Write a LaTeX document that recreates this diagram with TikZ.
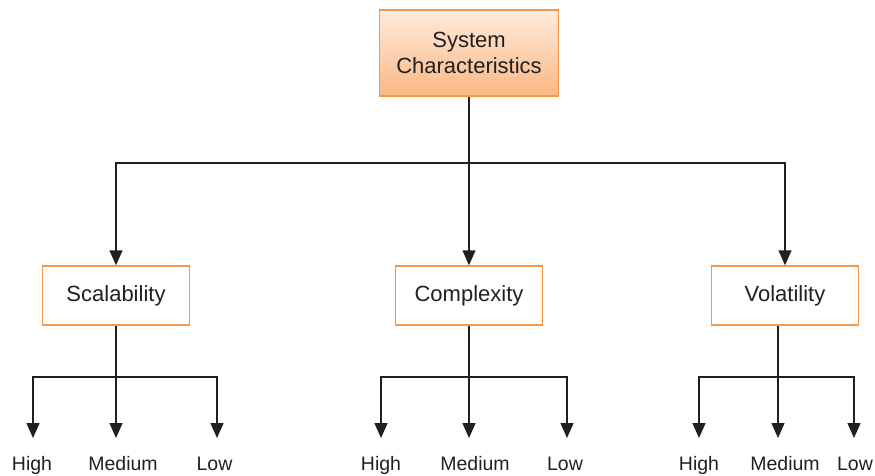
\documentclass[tikz,border=0pt]{standalone}
\usepackage{fontspec}
\setmainfont{Liberation Sans}
\usetikzlibrary{positioning, arrows.meta}
\definecolor{boxorange}{RGB}{247,150,70}
\definecolor{peachtop}{RGB}{253,236,222}
\definecolor{peachbot}{RGB}{250,183,132}
\definecolor{ink}{RGB}{35,31,32}

\begin{document}
\begin{tikzpicture}[
    x=1pt, y=1pt,
    every node/.style={text=ink},
    root/.style={rectangle, draw=boxorange, line width=1.5pt, top color=peachtop, bottom color=peachbot, align=center, minimum width=179pt, minimum height=86pt, font=\fontsize{22}{26}\selectfont},
    trait/.style={rectangle, draw=boxorange, line width=1.5pt, fill=white, align=center, minimum width=147pt, minimum height=59pt, font=\fontsize{22}{26}\selectfont},
    level/.style={font=\fontsize{19.5}{22}\selectfont, inner sep=0pt, anchor=base},
    wire/.style={draw=ink, line width=1.5pt},
    arr/.style={wire, -{Triangle[length=15pt, width=13pt]}},
]
\useasboundingbox (0,0) rectangle (875,475);

% ---------- root ----------
\node[root] (sys) at (469,422) {System\\Characteristics};

% ---------- characteristics ----------
\node[trait] (scal) at (116,179.5) {Scalability};
\node[trait] (comp) at (469,179.5) {Complexity};
\node[trait] (vola) at (785,179.5) {Volatility};

\coordinate (split) at (469,312);
\draw[wire] (sys.south) -- (split);
\draw[arr] (split) -| (scal.north);
\draw[arr] (split) -- (comp.north);
\draw[arr] (split) -| (vola.north);

% ---------- levels: scalability ----------
\node[level] (scal-high) at (32,5) {High};
\node[level] (scal-med) at (123,5) {Medium};
\node[level] (scal-low) at (214.5,5) {Low};
\coordinate (scal-split) at (scal.south |- 0,98);
\coordinate (scal-h) at (33,37);
\coordinate (scal-m) at (scal.south |- 0,37);
\coordinate (scal-l) at (217,37);
\draw[wire] (scal.south) -- (scal-split);
\draw[arr] (scal-split) -| (scal-h);
\draw[arr] (scal-split) -- (scal-m);
\draw[arr] (scal-split) -| (scal-l);

% ---------- levels: complexity ----------
\node[level] (comp-high) at (381,5) {High};
\node[level] (comp-med) at (475,5) {Medium};
\node[level] (comp-low) at (565,5) {Low};
\coordinate (comp-split) at (comp.south |- 0,98);
\coordinate (comp-h) at (381,37);
\coordinate (comp-m) at (comp.south |- 0,37);
\coordinate (comp-l) at (567,37);
\draw[wire] (comp.south) -- (comp-split);
\draw[arr] (comp-split) -| (comp-h);
\draw[arr] (comp-split) -- (comp-m);
\draw[arr] (comp-split) -| (comp-l);

% ---------- levels: volatility ----------
\node[level] (vola-high) at (699,5) {High};
\node[level] (vola-med) at (785,5) {Medium};
\node[level] (vola-low) at (855,5) {Low};
\coordinate (vola-split) at (778,98);
\coordinate (vola-h) at (699,37);
\coordinate (vola-m) at (778,37);
\coordinate (vola-l) at (854,37);
\draw[wire] (vola-split |- vola.south) -- (vola-split);
\draw[arr] (vola-split) -| (vola-h);
\draw[arr] (vola-split) -- (vola-m);
\draw[arr] (vola-split) -| (vola-l);

\end{tikzpicture}
\end{document}
